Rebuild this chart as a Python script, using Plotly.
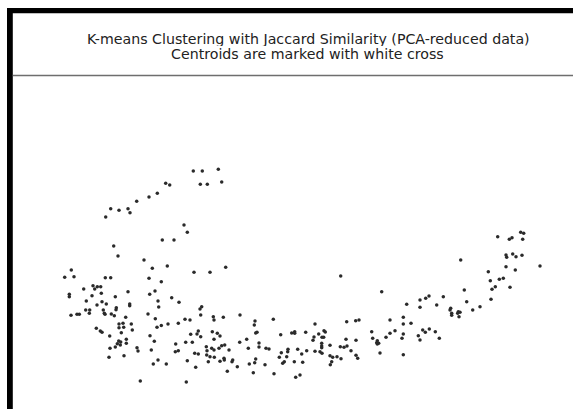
import plotly.graph_objects as go

# Projected sample positions (first two principal components, screen-scale units)
pc1 = [
    157.3, 149.0, 136.7, 110.7, 119.0, 128.0, 130.0, 105.7, 113.7, 118.0, 144.0, 71.3, 64.7, 74.0,
    105.3, 110.7, 152.3, 149.0, 83.7, 93.0, 94.7, 97.3, 100.7, 101.3, 92.0, 69.3, 69.3, 128.0,
    115.3, 149.7, 155.0, 86.3, 102.0, 97.0, 106.3, 116.3, 116.0, 129.7, 129.7, 158.0, 158.7,
    85.7, 89.7, 89.3, 103.3, 104.3, 105.0, 111.3, 114.3, 125.7, 148.0, 71.0, 77.0, 79.3, 119.0,
    123.0, 119.0, 123.7, 131.3, 132.3, 121.3, 96.3, 100.3, 102.0, 109.7, 157.0, 150.0, 154.3,
    118.7, 120.7, 117.3, 120.3, 126.3, 126.3, 115.3, 110.0, 137.0, 138.0, 151.3, 124.0, 109.0,
    158.0, 153.3, 140.3, 155.3, 161.3,
    193.3, 202.3, 218.3, 165.7, 169.7, 200.3, 207.3, 221.7, 184.0, 187.3, 162.3, 174.0, 167.3,
    194.0, 210.0, 225.7, 161.3, 171.7, 179.0, 201.7, 200.0, 200.7, 213.3, 214.0, 223.3, 240.0,
    185.0, 190.0, 168.0, 178.3, 255.0, 254.3, 198.3, 190.7, 197.0, 200.7, 212.3, 217.3, 220.0,
    214.0, 255.7, 257.0, 246.7, 175.7, 185.7, 192.3, 239.7, 248.3, 206.3, 211.7, 214.0, 219.0,
    221.7, 224.7, 229.0, 175.3, 178.3, 207.0, 194.7, 198.3, 206.7, 210.0, 214.3, 224.0, 224.3,
    232.7, 232.0, 208.3, 220.0, 255.7, 254.7, 249.3, 187.3, 166.3, 195.7, 237.3, 227.3, 253.3,
    186.3, 259.0, 259.0,
    340.7, 273.3, 315.0, 346.7, 355.7, 359.0, 280.7, 291.7, 294.7, 294.7, 305.7, 318.7, 324.0,
    325.3, 314.0, 313.0, 322.0, 323.7, 346.0, 356.0, 266.0, 269.0, 321.7, 321.7, 321.7, 330.0,
    340.3, 344.0, 347.0, 351.0, 297.7, 288.0, 287.7, 281.3, 306.7, 315.0, 320.0, 322.0, 301.7,
    279.3, 286.7, 330.0, 332.7, 337.0, 341.0, 356.0, 357.7, 284.3, 282.7, 294.3, 302.7, 331.7,
    330.3, 265.0, 274.0, 295.7, 300.0,
    381.7, 406.7, 420.0, 425.7, 429.0, 443.3, 420.0, 436.7, 390.0, 403.3, 403.3, 411.0, 395.0,
    390.0, 386.0, 403.3, 402.0, 418.3, 420.0, 422.7, 425.3, 429.3, 435.3, 439.3, 403.3, 380.0,
    371.7, 372.7, 377.3, 376.7, 378.7, 377.3,
    450.7, 450.0, 451.7, 451.7, 458.3, 460.0, 459.0, 457.7, 460.7, 464.3, 466.7, 472.7, 480.0,
    488.3, 490.3, 491.0, 492.0, 495.3, 499.3, 503.3, 497.7, 509.3, 512.0, 520.7, 523.7, 522.7,
    506.0, 506.7, 512.7, 516.0, 522.0, 506.0, 515.3, 510.0, 540.0,
]
pc2 = [
    193.3, 197.0, 201.3, 208.7, 210.3, 208.7, 212.7, 217.0, 246.0, 256.0, 260.0, 270.0, 277.3, 276.7,
    277.7, 277.7, 268.3, 278.3, 289.0, 285.7, 289.0, 286.7, 286.7, 293.3, 295.7, 294.3, 296.7, 291.7,
    296.7, 294.3, 291.0, 301.0, 301.7, 305.0, 304.0, 307.7, 309.7, 304.0, 305.7, 301.0, 307.0,
    310.0, 310.0, 313.3, 310.0, 313.3, 314.3, 314.0, 315.7, 317.3, 314.0, 315.3, 314.3, 314.3, 324.0,
    323.3, 327.7, 327.3, 324.0, 330.0, 332.7, 328.3, 331.0, 332.3, 336.0, 327.3, 335.7, 341.3,
    341.0, 342.0, 343.7, 345.0, 339.3, 343.3, 347.0, 348.3, 347.7, 351.0, 350.0, 355.7, 357.3,
    360.0, 364.0, 381.0, 318.7, 325.5,
    171.0, 171.0, 169.3, 183.3, 185.0, 184.3, 184.3, 182.0, 225.0, 232.3, 240.0, 240.0, 266.0,
    272.3, 272.3, 267.3, 281.7, 297.7, 302.3, 306.7, 309.0, 315.0, 316.7, 320.0, 317.3, 315.0,
    319.3, 320.0, 324.0, 323.3, 321.0, 325.0, 331.0, 334.3, 334.0, 336.7, 331.7, 333.3, 336.0,
    339.3, 333.0, 332.3, 339.3, 344.0, 342.3, 342.3, 342.3, 348.3, 346.7, 348.3, 350.0, 348.3,
    345.7, 345.0, 350.0, 351.7, 350.7, 350.7, 353.3, 354.0, 355.0, 356.7, 357.3, 358.3, 360.0,
    360.0, 361.7, 361.7, 361.3, 359.0, 362.7, 364.0, 360.7, 364.0, 367.3, 366.7, 371.3, 372.7,
    382.0, 343.0, 347.0,
    276.0, 319.3, 324.0, 321.7, 320.7, 320.0, 334.7, 333.0, 331.7, 333.3, 332.3, 334.0, 330.7,
    332.0, 337.0, 340.3, 337.3, 337.3, 339.3, 340.3, 348.3, 349.0, 343.3, 346.0, 347.7, 345.3,
    346.7, 347.3, 346.0, 350.7, 349.3, 349.3, 351.7, 352.7, 350.7, 351.3, 351.7, 353.3, 354.0,
    357.3, 356.7, 355.7, 357.3, 356.7, 358.7, 355.3, 358.3, 361.7, 363.3, 361.7, 362.3, 361.7,
    364.7, 364.7, 373.7, 377.3, 375.0,
    291.7, 304.3, 300.0, 298.3, 296.0, 296.7, 307.3, 305.0, 320.0, 317.3, 324.0, 323.3, 330.7,
    333.3, 337.3, 334.0, 338.3, 335.7, 340.0, 330.0, 332.3, 329.0, 331.7, 338.3, 354.7, 353.0,
    331.7, 338.3, 340.7, 342.7, 343.3, 344.0,
    308.3, 310.0, 313.3, 315.3, 311.7, 312.3, 316.7, 313.3, 260.0, 290.0, 301.7, 310.0, 306.7,
    271.7, 280.7, 299.3, 289.3, 286.7, 279.3, 278.3, 236.7, 239.3, 237.7, 232.3, 233.3, 239.3,
    255.0, 257.3, 254.0, 256.7, 255.3, 266.7, 270.0, 287.3, 266.0,
]

title_line1 = "K-means Clustering with Jaccard Similarity (PCA-reduced data)"
title_line2 = "Centroids are marked with white cross"

W, H = 573, 409

fig = go.Figure()
fig.add_trace(go.Scatter(
    x=pc1, y=pc2, mode="markers",
    marker=dict(size=3.5, color="#2a2a2a", line=dict(width=0)),
    hoverinfo="skip", showlegend=False,
))

# Frame: heavy top and left rules, thin separator under the title block
shapes = [
    dict(type="rect", xref="paper", yref="paper",
         x0=7 / W, x1=1, y0=1 - 13.3 / H, y1=1 - 8 / H,
         fillcolor="black", line=dict(width=0), layer="above"),
    dict(type="rect", xref="paper", yref="paper",
         x0=7 / W, x1=12.8 / W, y0=0, y1=1 - 8 / H,
         fillcolor="black", line=dict(width=0), layer="above"),
    dict(type="line", xref="paper", yref="paper",
         x0=12.8 / W, x1=1, y0=1 - 75.5 / H, y1=1 - 75.5 / H,
         line=dict(color="#6e6e6e", width=1.5), layer="above"),
]

# Two-line heading; each line sits in its own short box so the lines stay close
title_font = dict(family="DejaVu Sans", size=14.2, color="#222222")
annotations = [
    dict(text=title_line1, xref="paper", yref="paper", x=308 / W, y=1 - 38.6 / H,
         showarrow=False, xanchor="center", yanchor="middle", font=title_font,
         height=15, valign="middle"),
    dict(text=title_line2, xref="paper", yref="paper", x=307 / W, y=1 - 53.6 / H,
         showarrow=False, xanchor="center", yanchor="middle", font=title_font,
         height=15, valign="middle"),
]

fig.update_layout(
    width=W, height=H,
    margin=dict(l=0, r=0, t=0, b=0),
    paper_bgcolor="white", plot_bgcolor="white",
    xaxis=dict(range=[0, W], visible=False, showgrid=False, zeroline=False),
    yaxis=dict(range=[H, 0], visible=False, showgrid=False, zeroline=False),
    shapes=shapes, annotations=annotations,
)

fig.write_html("out.html")
